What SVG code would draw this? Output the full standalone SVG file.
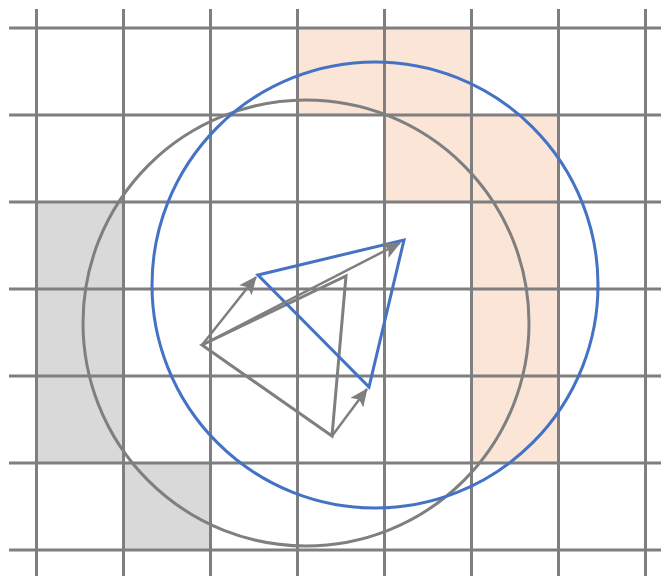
<svg xmlns="http://www.w3.org/2000/svg" width="661" height="576" viewBox="0 0 661 576">
  <defs>
    <style>
      .grid { stroke: #7f7f7f; stroke-width: 3; fill: none; }
      .gfill { fill: #d9d9d9; stroke: none; }
      .ofill { fill: #fbe5d6; stroke: none; }
      .gray { stroke: #7f7f7f; stroke-width: 3; fill: none; stroke-linejoin: miter; }
      .blue { stroke: #4472c4; stroke-width: 3; fill: none; stroke-linejoin: miter; }
      .arrow { stroke: #7f7f7f; stroke-width: 2.5; fill: none; marker-end: url(#ah); }
    </style>
    <marker id="ah" markerUnits="userSpaceOnUse" markerWidth="18" markerHeight="16" viewBox="0 0 18 16" refX="17" refY="8" orient="auto">
      <path d="M0,0 L18,8 L0,16 L4,8 Z" fill="#7f7f7f"/>
    </marker>
  </defs>
  <rect width="661" height="576" fill="#ffffff"/>
  <g id="fills">
    <rect class="ofill" x="297.5" y="28" width="174" height="87"/>
    <rect class="ofill" x="384.5" y="115" width="174" height="87"/>
    <rect class="ofill" x="471.5" y="202" width="87" height="261"/>
    <rect class="gfill" x="36.5" y="202" width="87" height="261"/>
    <rect class="gfill" x="123.5" y="463" width="87" height="87"/>
  </g>
  <g id="grid" class="grid">
    <path d="M36.5,9V576M123.5,9V576M210.5,9V576M297.5,9V576M384.5,9V576M471.5,9V576M558.5,9V576M645.5,9V576"/>
    <path d="M9,28H661M9,115H661M9,202H661M9,289H661M9,376H661M9,463H661M9,550H661"/>
  </g>
  <g id="gray-circle">
    <circle class="gray" cx="306" cy="323" r="223"/>
  </g>
  <g id="blue-circle">
    <circle class="blue" cx="375" cy="285" r="223"/>
  </g>
  <g id="gray-triangle">
    <polygon class="gray" points="202,345 346,276 332,436"/>
  </g>
  <g id="blue-triangle">
    <polygon class="blue" points="258,275 404,240 369,387"/>
  </g>
  <g id="connectors">
    <line class="arrow" x1="202" y1="345" x2="256" y2="277"/>
    <line class="arrow" x1="202" y1="345" x2="400" y2="243"/>
    <line class="arrow" x1="332" y1="436" x2="367" y2="389"/>
  </g>
</svg>
